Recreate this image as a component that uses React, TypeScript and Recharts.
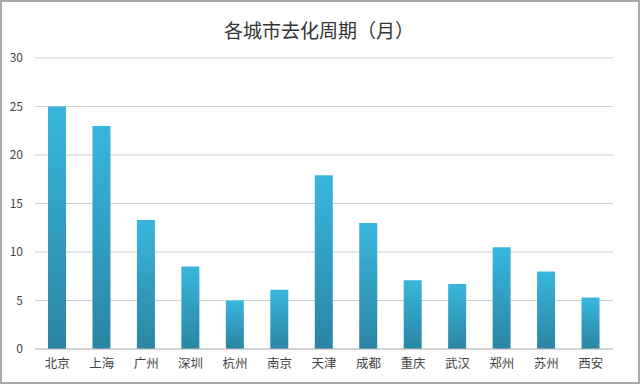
import React from 'react';
import { BarChart, Bar, XAxis, YAxis, CartesianGrid } from 'recharts';

const cities = ['北京', '上海', '广州', '深圳', '杭州', '南京', '天津', '成都', '重庆', '武汉', '郑州', '苏州', '西安'];
const months = [25, 23, 13.3, 8.5, 5, 6.1, 17.9, 13, 7.1, 6.7, 10.5, 8, 5.3];
const yTicks = [0, 5, 10, 15, 20, 25, 30];
const title = '各城市去化周期（月）';

const data = cities.map((c, i) => ({ city: c, value: months[i] }));

const FONT = '"Noto Sans CJK SC", "Noto Sans", sans-serif';

export default function App() {
  return (
    <div
      style={{
        position: 'absolute',
        left: 0,
        top: 0,
        width: 640,
        height: 384,
        boxSizing: 'border-box',
        border: '2px solid #a8a8a8',
        background: '#ffffff',
        fontFamily: FONT,
      }}
    >
      <div
        style={{
          position: 'absolute',
          left: 2,
          top: 15,
          width: 630,
          textAlign: 'center',
          fontSize: 19,
          color: '#333333',
          lineHeight: '26px',
        }}
      >
        {title}
      </div>
      <div style={{ position: 'absolute', left: -2, top: -2 }}>
        <BarChart
          width={640}
          height={384}
          data={data}
          margin={{ top: 58, right: 27, bottom: 5, left: 0 }}
          barSize={18}
        >
          <defs>
            <linearGradient id="barGrad" x1="0" y1="0" x2="0" y2="1">
              <stop offset="0%" stopColor="#39b6de" />
              <stop offset="100%" stopColor="#2a85a2" />
            </linearGradient>
          </defs>
          <CartesianGrid vertical={false} stroke="#d0d0d0" strokeWidth={1} />
          <XAxis
            dataKey="city"
            height={30}
            tickLine={false}
            axisLine={{ stroke: '#c0c0c0' }}
            tickSize={0}
            tickMargin={10}
            interval={0}
            tick={{ fontSize: 12.5, fill: '#444444', fontFamily: FONT }}
          />
          <YAxis
            width={35}
            domain={[0, 30]}
            ticks={yTicks}
            axisLine={false}
            tickLine={false}
            tickSize={0}
            tickMargin={12}
            tick={{ fontSize: 12, fill: '#444444', fontFamily: FONT }}
          />
          <Bar dataKey="value" fill="url(#barGrad)" isAnimationActive={false} />
        </BarChart>
      </div>
    </div>
  );
}
